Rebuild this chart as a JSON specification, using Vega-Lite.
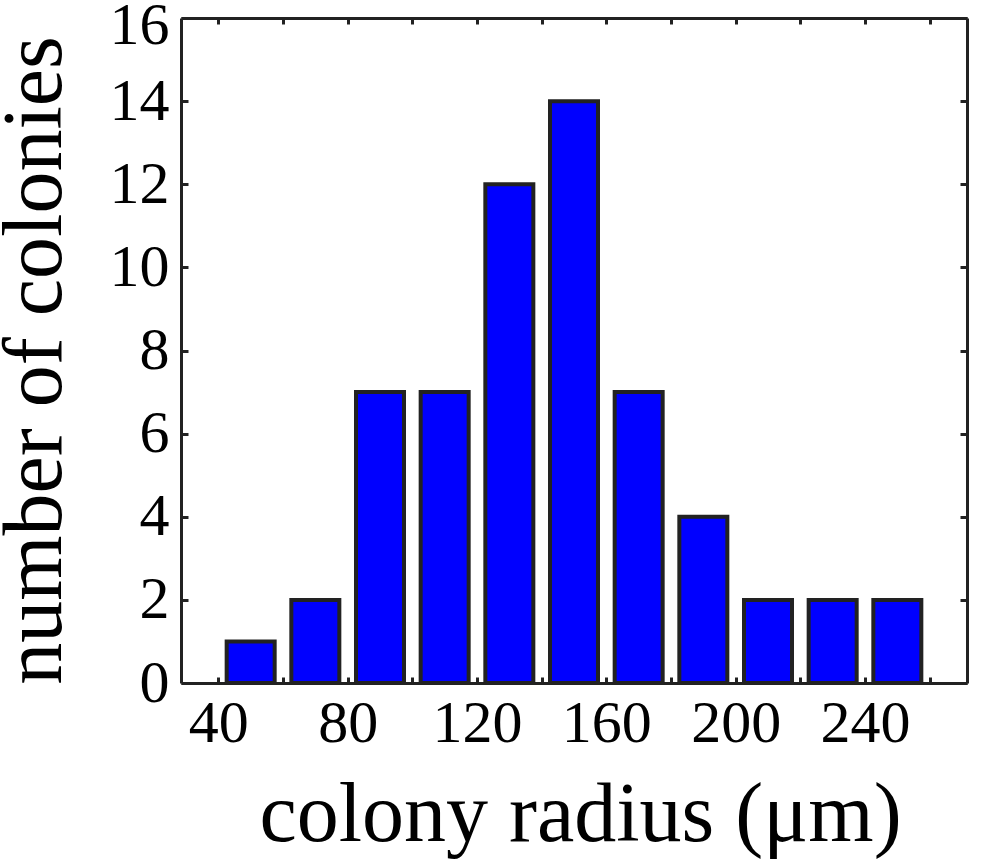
{
  "$schema": "https://vega.github.io/schema/vega-lite/v6.json",
  "description": "Histogram of colony radius",
  "autosize": {"type": "none"},
  "padding": {"left": 181, "top": 18, "right": 33, "bottom": 177},
  "width": 786,
  "height": 665,
  "background": "white",
  "config": {
    "view": {"stroke": null},
    "font": "Liberation Serif",
    "axis": {
      "grid": false,
      "domainColor": "#222222",
      "domainWidth": 3,
      "tickColor": "#222222",
      "tickWidth": 3,
      "labelColor": "black",
      "labelFont": "Liberation Serif",
      "labelFontSize": 60,
      "titleFont": "Liberation Serif",
      "titleFontSize": 84,
      "titleFontWeight": "normal",
      "titleColor": "black"
    }
  },
  "data": {
    "values": [
      {"radius": 50, "count": 1},
      {"radius": 70, "count": 2},
      {"radius": 90, "count": 7},
      {"radius": 110, "count": 7},
      {"radius": 130, "count": 12},
      {"radius": 150, "count": 14},
      {"radius": 170, "count": 7},
      {"radius": 190, "count": 4},
      {"radius": 210, "count": 2},
      {"radius": 230, "count": 2},
      {"radius": 250, "count": 2}
    ]
  },
  "layer": [
    {
      "mark": {"type": "bar", "width": 48, "fill": "#0000ff", "stroke": "#222222", "strokeWidth": 4},
      "encoding": {
        "x": {
          "field": "radius",
          "type": "quantitative",
          "scale": {"domain": [30, 270], "nice": false, "zero": false},
          "axis": {
            "orient": "bottom",
            "values": [40, 60, 80, 100, 120, 140, 160, 180, 200, 220, 240, 260],
            "labelExpr": "datum.value % 40 === 0 ? datum.label : ''",
            "tickSize": -6,
            "labelPadding": 17,
            "labelFlush": false,
            "labelOverlap": false,
            "title": "colony radius (μm)",
            "titleBaseline": "alphabetic",
            "titleY": 157,
            "titleX": 399
          }
        },
        "y": {
          "field": "count",
          "type": "quantitative",
          "scale": {"domain": [0, 16], "nice": false},
          "axis": {
            "orient": "left",
            "values": [0, 2, 4, 6, 8, 10, 12, 14, 16],
            "tickSize": -7,
            "labelPadding": 19,
            "labelOffset": {"condition": {"test": "datum.value === 16", "value": 7}, "value": 0},
            "labelFlush": false,
            "labelOverlap": false,
            "title": "number of colonies",
            "titleBaseline": "alphabetic",
            "titleX": -121,
            "titleY": 342
          }
        }
      }
    },
    {
      "mark": {"type": "bar", "width": 48, "fillOpacity": 0, "strokeOpacity": 0},
      "encoding": {
        "x": {
          "field": "radius",
          "type": "quantitative",
          "axis": {
            "orient": "top",
            "values": [40, 60, 80, 100, 120, 140, 160, 180, 200, 220, 240, 260],
            "tickSize": -6,
            "labels": false,
            "title": null
          }
        },
        "y": {
          "field": "count",
          "type": "quantitative",
          "axis": {
            "orient": "right",
            "values": [0, 2, 4, 6, 8, 10, 12, 14, 16],
            "tickSize": -7,
            "labels": false,
            "title": null
          }
        }
      }
    }
  ],
  "resolve": {"axis": {"x": "independent", "y": "independent"}}
}
